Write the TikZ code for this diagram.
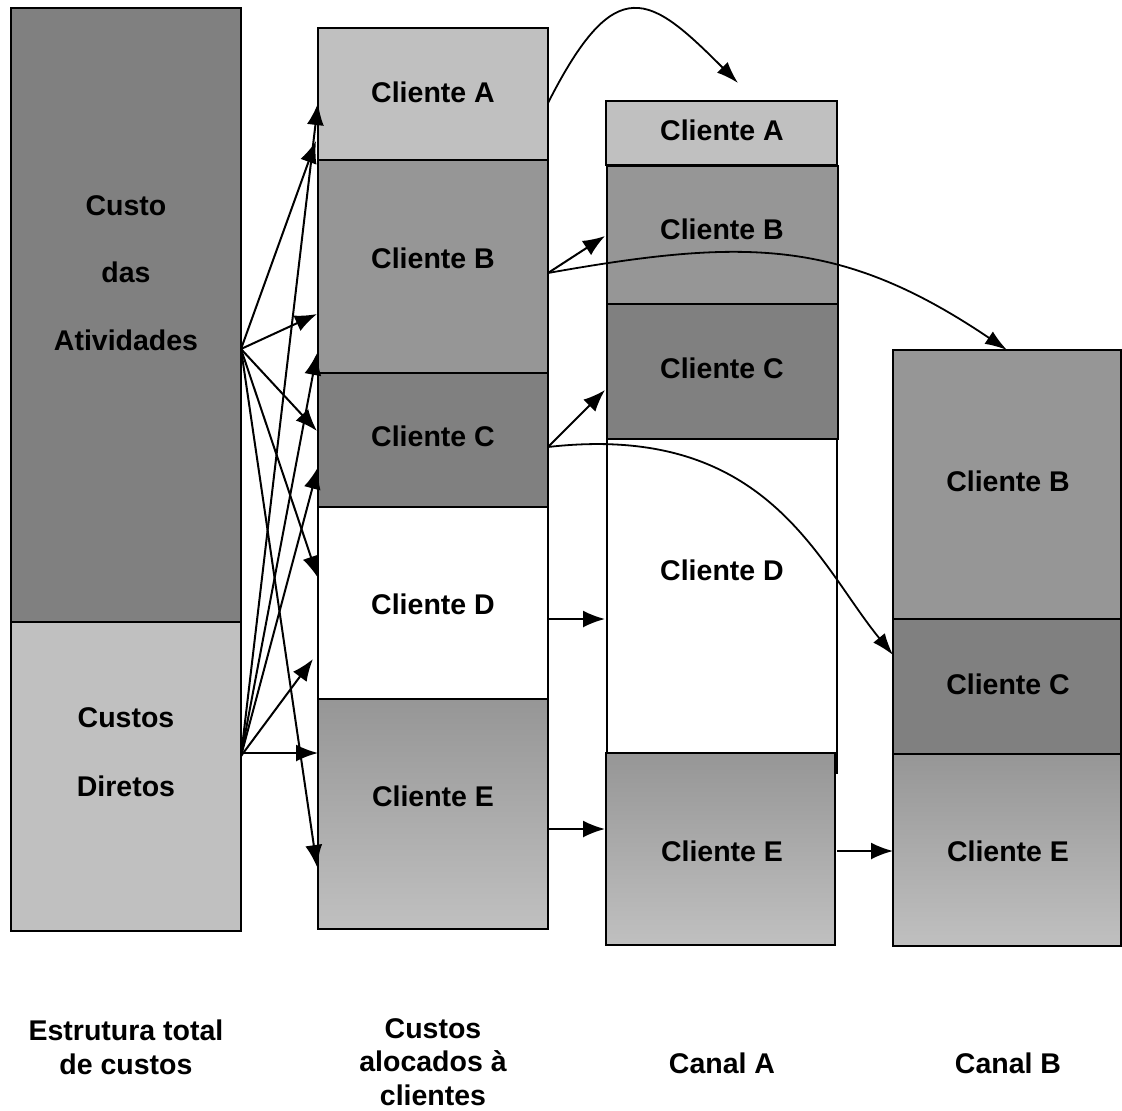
\documentclass[tikz,border=0pt]{standalone}
\usepackage{fontspec}
\setmainfont{Liberation Sans}
\usetikzlibrary{arrows.meta}
\definecolor{gdark}{RGB}{128,128,128}
\definecolor{gmid}{RGB}{150,150,150}
\definecolor{glight}{RGB}{192,192,192}
\begin{document}
\begin{tikzpicture}[x=1pt,y=-1pt,
  box/.style={draw=black,line width=1.8pt,rectangle,inner sep=0pt,outer sep=0pt,anchor=north west},
  fade/.style={top color=gmid,bottom color=glight},
  lbl/.style={font=\fontsize{28.5}{34}\selectfont\bfseries,align=center,inner sep=0pt},
  arr/.style={line width=2pt,-{Latex[length=22pt,width=17pt]}},
  curvearr/.style={line width=1.8pt,-{Latex[length=22pt,width=15pt]}},
]
\useasboundingbox (0,0) rectangle (1122,1111);
\fill[white] (0,0) rectangle (1122,1111);

% total cost structure
\node[box,fill=gdark,minimum width=230pt,minimum height=614pt] (act) at (11,8) {};
\node[box,fill=glight,minimum width=230pt,minimum height=309pt] (dir) at (11,622) {};

% costs allocated to clients
\node[box,fill=glight,minimum width=230pt,minimum height=132pt] (aA) at (318,28) {};
\node[box,fill=gmid,minimum width=230pt,minimum height=213pt] (aB) at (318,160) {};
\node[box,fill=gdark,minimum width=230pt,minimum height=134pt] (aC) at (318,373) {};
\node[box,fill=white,minimum width=230pt,minimum height=192pt] (aD) at (318,507) {};
\node[box,fade,minimum width=230pt,minimum height=230pt] (aE) at (318,699) {};

% channel A
\node[box,fill=glight,minimum width=231pt,minimum height=64pt] (cA) at (606,101) {};
\node[box,fill=gmid,minimum width=231pt,minimum height=138pt] (cB) at (607,166) {};
\node[box,fill=gdark,minimum width=231pt,minimum height=135pt] (cC) at (607,304) {};
\node[box,fill=white,minimum width=230pt,minimum height=334pt] (cD) at (607,439) {};
\node[box,fade,minimum width=229pt,minimum height=192pt] (cE) at (606,753) {};

% channel B
\node[box,fill=gmid,minimum width=228pt,minimum height=269pt] (bB) at (893,350) {};
\node[box,fill=gdark,minimum width=228pt,minimum height=135pt] (bC) at (893,619) {};
\node[box,fade,minimum width=228pt,minimum height=192pt] (bE) at (893,754) {};

% labels inside the bars
\node[lbl,font=\fontsize{28.5}{67.5}\selectfont\bfseries] (tact) at (126,273) {Custo\\das\\Atividades};
\node[lbl,font=\fontsize{28.5}{69}\selectfont\bfseries] (tdir) at (126,752) {Custos\\Diretos};

\node[lbl] (taA) at (433,92) {Cliente A};
\node[lbl] (taB) at (433,258) {Cliente B};
\node[lbl] (taC) at (433,436) {Cliente C};
\node[lbl] (taD) at (433,604) {Cliente D};
\node[lbl] (taE) at (433,796) {Cliente E};

\node[lbl] (tcA) at (722,130) {Cliente A};
\node[lbl] (tcB) at (722,229) {Cliente B};
\node[lbl] (tcC) at (722,368) {Cliente C};
\node[lbl] (tcD) at (722,570) {Cliente D};
\node[lbl] (tcE) at (722,851) {Cliente E};

\node[lbl] (tbB) at (1008,481) {Cliente B};
\node[lbl] (tbC) at (1008,684) {Cliente C};
\node[lbl] (tbE) at (1008,851) {Cliente E};

% column captions
\node[lbl] (cap1) at (126,1047) {Estrutura total\\de custos};
\node[lbl,font=\fontsize{28.5}{33.5}\selectfont\bfseries] (cap2) at (433,1062) {Custos\\alocados à\\clientes};
\node[lbl] (cap3) at (722,1063) {Canal A};
\node[lbl] (cap4) at (1008,1063) {Canal B};

% connector ends
\coordinate (s1) at (241,349);
\coordinate (s2) at (241,756);
\coordinate (s2h) at (242,753);
\coordinate (pA1) at (316,141);
\coordinate (pB1) at (317,314);
\coordinate (pC1) at (317,431);
\coordinate (pD1) at (318,578);
\coordinate (pE1) at (317,867);
\coordinate (pA2) at (318,103);
\coordinate (pB2) at (317,353);
\coordinate (pC2) at (318,467);
\coordinate (pD2) at (313,659);
\coordinate (pE2) at (318,753);

% allocation of activity costs
\foreach \t in {pA1,pB1,pC1,pD1,pE1} \draw[arr] (s1) -- (\t);
% allocation of direct costs
\foreach \t in {pA2,pB2,pC2,pD2} \draw[arr] (s2) -- (\t);
\draw[arr] (s2h) -- (pE2);

% from clients to channels
\coordinate (oA) at (548,103);
\coordinate (oB) at (548,273);
\coordinate (oC) at (548,447);
\coordinate (oD) at (548,619);
\coordinate (oE) at (548,829);
\coordinate (iA) at (738,83);
\coordinate (iB) at (605,236);
\coordinate (iC) at (605,390);
\coordinate (iD) at (605,619);
\coordinate (iE) at (605,829);
\coordinate (jB) at (1007,350);
\coordinate (jC) at (893,655);
\coordinate (oE2) at (837,851);
\coordinate (jE) at (893,851);

\draw[curvearr] (oA) .. controls (616,-31) and (650,-5) .. (iA);
\draw[arr] (oB) -- (iB);
\draw[curvearr] (oB) .. controls (745,238) and (841,238) .. (jB);
\draw[arr] (oC) -- (iC);
\draw[curvearr] (oC) .. controls (767,422) and (817,562) .. (jC);
\draw[arr] (oD) -- (iD);
\draw[arr] (oE) -- (iE);
\draw[arr] (oE2) -- (jE);
\end{tikzpicture}
\end{document}
